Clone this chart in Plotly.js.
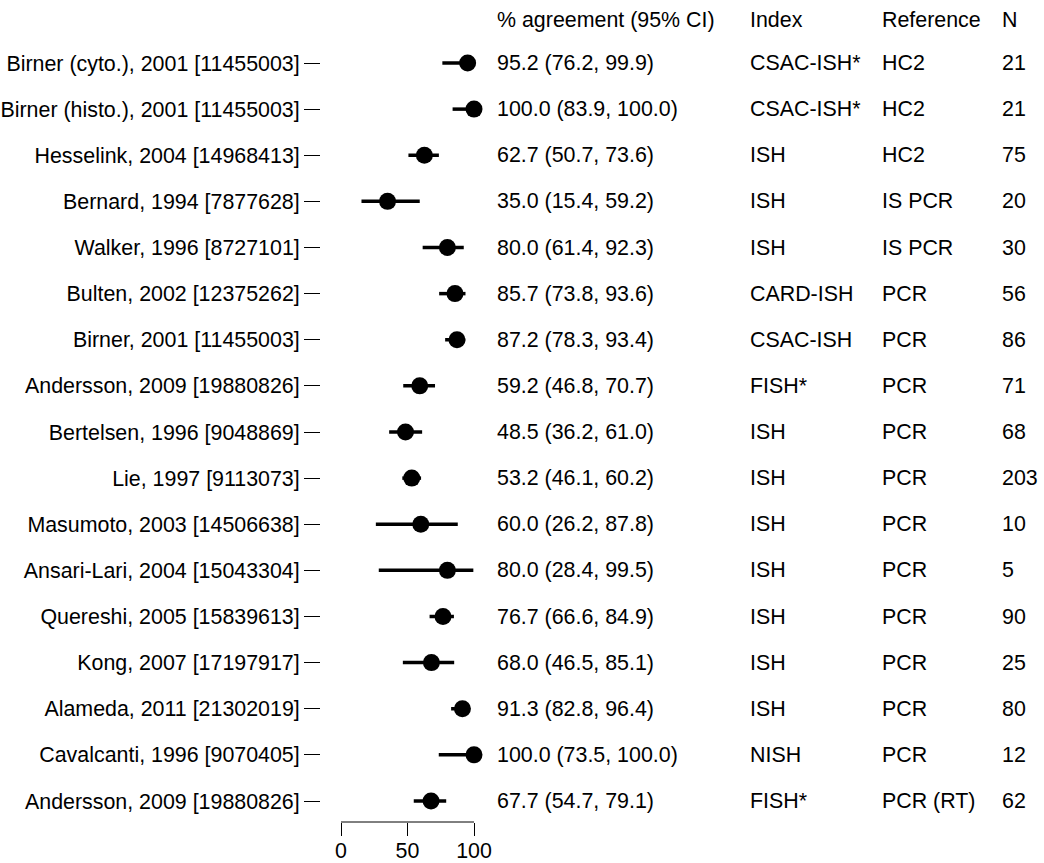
<!DOCTYPE html>
<html>
<head>
<meta charset="utf-8">
<script src="https://cdn.plot.ly/plotly-3.0.1.min.js"></script>
<style>
  html, body { margin: 0; padding: 0; background: #fff; }
  #chart { width: 1044px; height: 863px; }
</style>
</head>
<body>
<div id="chart"></div>
<script>
// ---- data ----
const studies = [
  "Birner (cyto.), 2001 [11455003]",
  "Birner (histo.), 2001 [11455003]",
  "Hesselink, 2004 [14968413]",
  "Bernard, 1994 [7877628]",
  "Walker, 1996 [8727101]",
  "Bulten, 2002 [12375262]",
  "Birner, 2001 [11455003]",
  "Andersson, 2009 [19880826]",
  "Bertelsen, 1996 [9048869]",
  "Lie, 1997 [9113073]",
  "Masumoto, 2003 [14506638]",
  "Ansari-Lari, 2004 [15043304]",
  "Quereshi, 2005 [15839613]",
  "Kong, 2007 [17197917]",
  "Alameda, 2011 [21302019]",
  "Cavalcanti, 1996 [9070405]",
  "Andersson, 2009 [19880826]"
];
const estimate = [95.2, 100.0, 62.7, 35.0, 80.0, 85.7, 87.2, 59.2, 48.5, 53.2, 60.0, 80.0, 76.7, 68.0, 91.3, 100.0, 67.7];
const ciLower  = [76.2, 83.9, 50.7, 15.4, 61.4, 73.8, 78.3, 46.8, 36.2, 46.1, 26.2, 28.4, 66.6, 46.5, 82.8, 73.5, 54.7];
const ciUpper  = [99.9, 100.0, 73.6, 59.2, 92.3, 93.6, 93.4, 70.7, 61.0, 60.2, 87.8, 99.5, 84.9, 85.1, 96.4, 100.0, 79.1];
const indexTest = ["CSAC-ISH*", "CSAC-ISH*", "ISH", "ISH", "ISH", "CARD-ISH", "CSAC-ISH", "FISH*", "ISH", "ISH", "ISH", "ISH", "ISH", "ISH", "ISH", "NISH", "FISH*"];
const referenceTest = ["HC2", "HC2", "HC2", "IS PCR", "IS PCR", "PCR", "PCR", "PCR", "PCR", "PCR", "PCR", "PCR", "PCR", "PCR", "PCR", "PCR", "PCR (RT)"];
const sampleN = [21, 21, 75, 20, 30, 56, 86, 71, 68, 203, 10, 5, 90, 25, 80, 12, 62];
const headers = ["% agreement (95% CI)", "Index", "Reference", "N"];
const xTicks = [0, 50, 100];

// ---- layout geometry (pixels) ----
const W = 1044, H = 863;
const plotLeft = 321, plotRight = 480, plotTop = 0, plotBottom = 822;
const px0 = 341, pxPerUnit = 1.33;          // x value 0 at 341px
const rowTop = 63, rowStep = 46.125;        // first row centre, row spacing
const headerY = 20;
const colPx = [495, 748, 880, 1000];

const FONT = "Liberation Sans, Arial, Helvetica, sans-serif";
const FS = 21.4;

const rows = studies.map((_, i) => i);
const xRange = [(plotLeft - px0) / pxPerUnit, (plotRight - px0) / pxPerUnit];
const yBottomVal = (studies.length - 1) + (plotBottom - (rowTop + rowStep * (studies.length - 1))) / rowStep;
const yTopVal = yBottomVal - (plotBottom - plotTop) / rowStep;
const paperX = p => (p - plotLeft) / (plotRight - plotLeft);
const headerRow = (headerY - rowTop) / rowStep;

const trace = {
  type: "scatter",
  mode: "markers",
  x: estimate,
  y: rows,
  marker: { color: "#000", size: 17 },
  error_x: {
    type: "data",
    symmetric: false,
    array: estimate.map((e, i) => ciUpper[i] - e),
    arrayminus: estimate.map((e, i) => e - ciLower[i]),
    color: "#000",
    thickness: 3.5,
    width: 0
  },
  hoverinfo: "skip",
  showlegend: false,
  cliponaxis: false
};

const annotations = [];
headers.forEach((h, k) => {
  annotations.push({
    xref: "paper", yref: "y", x: paperX(colPx[k]), y: headerRow,
    text: h, showarrow: false, xanchor: "left", yanchor: "middle",
    font: { family: FONT, size: FS, color: "#000" }
  });
});
rows.forEach(i => {
  const cols = [
    estimate[i].toFixed(1) + " (" + ciLower[i].toFixed(1) + ", " + ciUpper[i].toFixed(1) + ")",
    indexTest[i],
    referenceTest[i],
    String(sampleN[i])
  ];
  cols.forEach((t, k) => {
    annotations.push({
      xref: "paper", yref: "y", x: paperX(colPx[k]), y: i,
      text: t, showarrow: false, xanchor: "left", yanchor: "middle",
      font: { family: FONT, size: FS, color: "#000" }
    });
  });
});

const layout = {
  width: W, height: H,
  margin: { l: plotLeft, r: W - plotRight, t: plotTop, b: H - plotBottom, pad: 0 },
  paper_bgcolor: "#fff",
  plot_bgcolor: "#fff",
  font: { family: FONT, size: FS, color: "#000" },
  xaxis: {
    range: xRange,
    tickvals: xTicks,
    ticktext: xTicks.map(String),
    ticks: "outside", ticklen: 13, tickwidth: 1, tickcolor: "#000",
    ticklabelstandoff: -4,
    showline: false, showgrid: false, zeroline: false,
    tickfont: { family: FONT, size: FS, color: "#000" },
    fixedrange: true
  },
  yaxis: {
    range: [yBottomVal, yTopVal],
    tickvals: rows,
    ticktext: studies,
    ticks: "outside", ticklen: 16, tickwidth: 1, tickcolor: "#000",
    showline: false, showgrid: false, zeroline: false,
    tickfont: { family: FONT, size: FS, color: "#000" },
    fixedrange: true
  },
  shapes: [{
    type: "line", xref: "x", yref: "paper",
    x0: xTicks[0], x1: xTicks[xTicks.length - 1], y0: 0, y1: 0,
    line: { color: "#000", width: 1 }
  }],
  annotations: annotations,
  showlegend: false
};

Plotly.newPlot("chart", [trace], layout, { staticPlot: true, displayModeBar: false });
</script>
</body>
</html>
